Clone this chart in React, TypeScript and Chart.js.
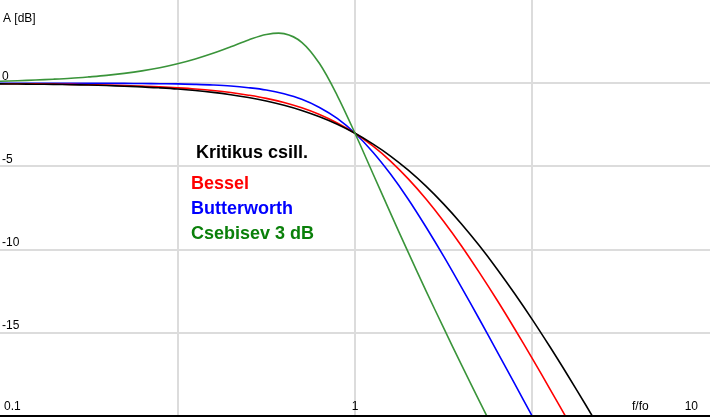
import React, { useEffect, useRef } from "react";
import { Chart, registerables } from "chart.js";

Chart.register(...registerables);

// log10(f/fo) sample points, -1 .. 1 in steps of 0.05
const logFreq = [
  -1.0, -0.95, -0.9, -0.85, -0.8, -0.75, -0.7, -0.65, -0.6, -0.55, -0.5, -0.45, -0.4, -0.35, -0.3,
  -0.25, -0.2, -0.15, -0.1, -0.05, 0.0, 0.05, 0.1, 0.15, 0.2, 0.25, 0.3, 0.35, 0.4, 0.45, 0.5,
  0.55, 0.6, 0.65, 0.7, 0.75,
];

// A [dB]
const kritikus = [
  -0.04, -0.05, -0.06, -0.07, -0.09, -0.11, -0.14, -0.18, -0.22, -0.28, -0.35, -0.44, -0.55, -0.69,
  -0.86, -1.07, -1.33, -1.64, -2.02, -2.47, -3.01, -3.65, -4.38, -5.23, -6.19, -7.27, -8.46, -9.76,
  -11.16, -12.65, -14.22, -15.87, -17.58, -19.34, -21.14, -22.98,
];
const bessel = [
  -0.03, -0.03, -0.04, -0.05, -0.07, -0.09, -0.11, -0.14, -0.17, -0.22, -0.28, -0.35, -0.44, -0.56,
  -0.72, -0.91, -1.16, -1.48, -1.88, -2.39, -3.01, -3.77, -4.68, -5.75, -6.96, -8.31, -9.78, -11.37,
  -13.03, -14.77, -16.57, -18.41, -20.28, -22.19,
];
const butterworth = [
  0.0, 0.0, 0.0, 0.0, 0.0, 0.0, -0.01, -0.01, -0.02, -0.03, -0.04, -0.07, -0.11, -0.17, -0.27,
  -0.41, -0.64, -0.97, -1.46, -2.12, -3.01, -4.13, -5.46, -6.97, -8.64, -10.41, -12.27, -14.17,
  -16.11, -18.07, -20.04, -22.03,
];
const csebisev = [
  0.12, 0.15, 0.19, 0.24, 0.3, 0.38, 0.47, 0.59, 0.74, 0.93, 1.17, 1.46, 1.8, 2.19, 2.6, 2.93, 2.98,
  2.46, 1.18, -0.74, -3.01, -5.41, -7.81, -10.17, -12.48, -14.72, -16.93, -19.09, -21.22,
];

const yTickValues = [0, -5, -10, -15];
const yTickLabels = ["0", "-5", "-10", "-15"];
const xTickValues = [0.1, 1, 10];
const xTickLabels = ["0.1", "1", "10"];
const xGridValues = [0.31622777, 1, 3.16227766];
const legendTitle = "Kritikus csill.";
const seriesNames = ["Bessel", "Butterworth", "Csebisev 3 dB"];

const toPoints = (vals: number[]) =>
  vals.map((v, i) => ({ x: Math.pow(10, logFreq[i]), y: v }));

const labelsPlugin = {
  id: "labelsPlugin",
  beforeDatasetsDraw(chart: any) {
    const ctx = chart.ctx;
    const xs = chart.scales.x;
    const ys = chart.scales.y;
    ctx.save();
    ctx.fillStyle = "#000";
    ctx.font = "12px 'Liberation Sans', Arial, sans-serif";
    ctx.textBaseline = "bottom";
    ctx.textAlign = "left";
    yTickLabels.forEach((t, i) => {
      const y = ys.getPixelForValue(yTickValues[i]);
      ctx.fillText(t, 2, y - 1);
    });
    ctx.fillText("A [dB]", 3, 25);
    const bottom = chart.chartArea.bottom;
    xTickLabels.forEach((t, i) => {
      let x = xs.getPixelForValue(xTickValues[i]);
      if (i === 0) {
        ctx.textAlign = "left";
        x = x + 4;
      } else if (i === xTickLabels.length - 1) {
        ctx.textAlign = "right";
        x = x - 12;
      } else {
        ctx.textAlign = "center";
      }
      ctx.fillText(t, x, bottom - 3);
    });
    ctx.textAlign = "left";
    ctx.fillText("f/fo", 632, bottom - 3);
    ctx.restore();
  },
  afterDraw(chart: any) {
    const ctx = chart.ctx;
    const area = chart.chartArea;
    ctx.save();
    ctx.fillStyle = "#000";
    ctx.fillRect(0, area.bottom - 1, chart.width, 2);
    ctx.font = "bold 18px 'Liberation Sans', Arial, sans-serif";
    ctx.textBaseline = "alphabetic";
    ctx.textAlign = "left";
    ctx.fillStyle = "#000";
    ctx.fillText(legendTitle, 196, 158);
    const colors = ["#ff0000", "#0000ff", "#0a800a"];
    seriesNames.forEach((n, i) => {
      ctx.fillStyle = colors[i];
      ctx.fillText(n, 191, 189 + i * 25);
    });
    ctx.restore();
  },
};

export default function App() {
  const ref = useRef<HTMLCanvasElement | null>(null);
  useEffect(() => {
    document.body.style.margin = "0";
    const canvas = ref.current!;
    const ds = (label: string, data: number[], color: string, w = 1.6) => ({
      label,
      data: toPoints(data),
      borderColor: color,
      backgroundColor: color,
      borderWidth: w,
      pointRadius: 0,
      fill: false,
      tension: 0.35,
    });
    const chart = new Chart(canvas, {
      type: "line",
      data: {
        datasets: [
          ds("Csebisev 3 dB", csebisev, "#3a943a"),
          ds("Kritikus csill.", kritikus, "#000000"),
          ds("Bessel", bessel, "#ff0000"),
          ds("Butterworth", butterworth, "#0000ff"),
        ],
      },
      options: {
        animation: false,
        responsive: false,
        maintainAspectRatio: false,
        parsing: false as any,
        layout: { padding: { top: 0, left: 0, right: 0, bottom: 1 } },
        plugins: { legend: { display: false }, tooltip: { enabled: false } },
        scales: {
          x: {
            type: "logarithmic",
            min: 0.1,
            max: 10,
            ticks: { display: false },
            grid: { color: "#dcdcdc", lineWidth: 2, drawTicks: false },
            border: { display: false },
            afterBuildTicks: (s: any) => {
              s.ticks = xGridValues.map((v) => ({ value: v }));
            },
            afterFit: (s: any) => {
              s.height = 0;
            },
          },
          y: {
            type: "linear",
            min: -20,
            max: 5,
            ticks: { display: false },
            grid: { color: "#dcdcdc", lineWidth: 2, drawTicks: false },
            border: { display: false },
            afterBuildTicks: (s: any) => {
              s.ticks = yTickValues.map((v) => ({ value: v }));
            },
            afterFit: (s: any) => {
              s.width = 0;
            },
          },
        },
      },
      plugins: [labelsPlugin],
    });
    return () => chart.destroy();
  }, []);
  return (
    <div style={{ width: 710, height: 417, background: "#fff" }}>
      <canvas ref={ref} width={710} height={417} style={{ display: "block" }} />
    </div>
  );
}
